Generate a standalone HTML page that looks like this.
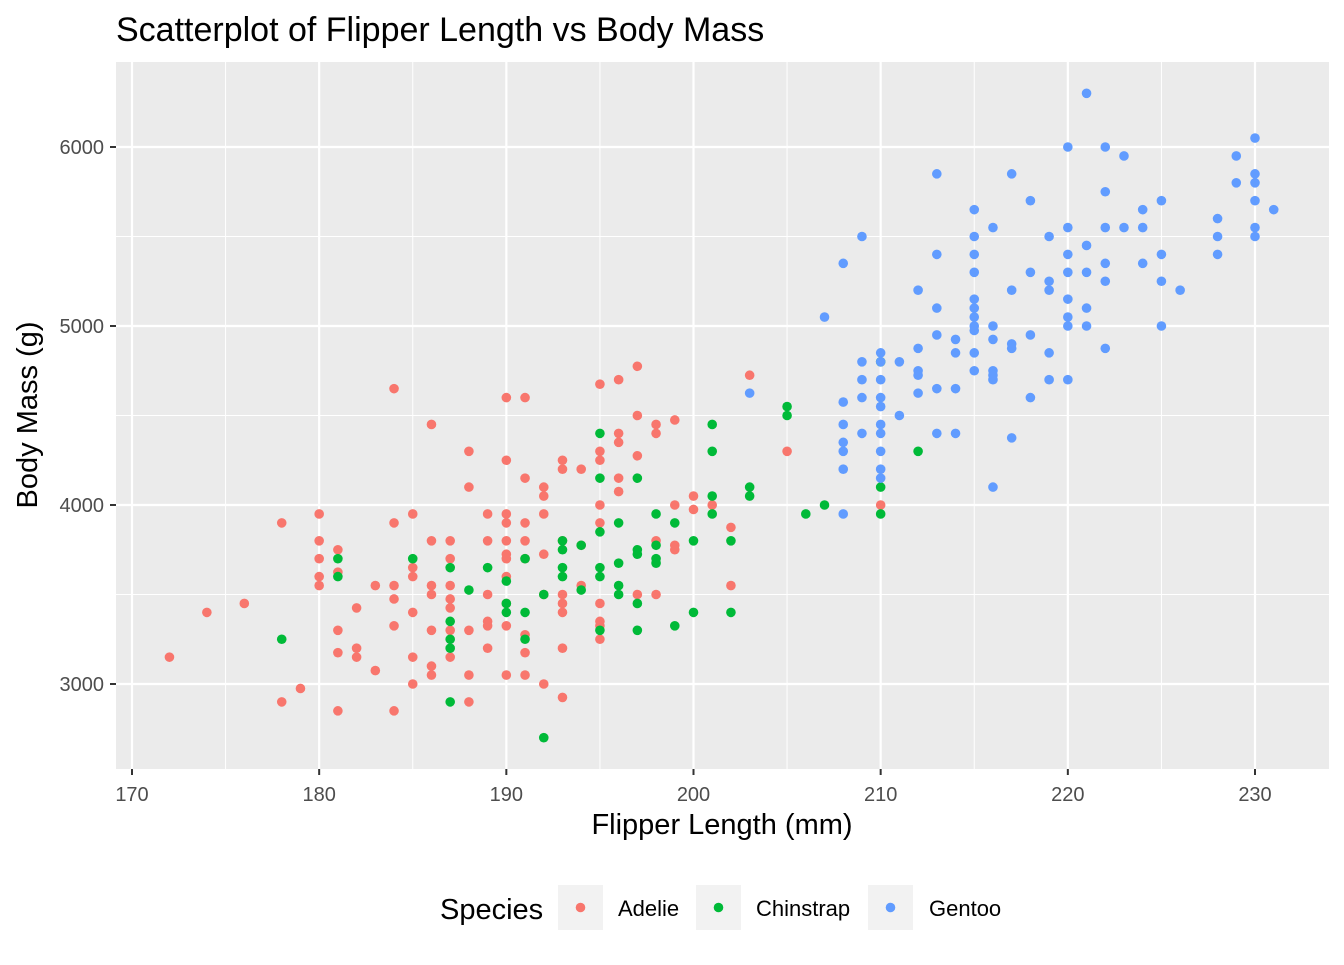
<!DOCTYPE html>
<html><head><meta charset="utf-8"><style>
body{margin:0;background:#fff;font-family:"Liberation Sans",Arial,sans-serif}
</style></head><body>
<svg id="chart" width="1344" height="960" xmlns="http://www.w3.org/2000/svg" font-family="Liberation Sans, Arial, sans-serif">
<text x="116" y="41" font-size="34" fill="#000">Scatterplot of Flipper Length vs Body Mass</text>
<rect x="116" y="62" width="1213" height="707" fill="#EBEBEB"/>
<g id="grid"></g><g id="ticks"></g><g id="points"></g>
<text x="722" y="834" font-size="29" text-anchor="middle">Flipper Length (mm)</text>
<text transform="translate(37,415) rotate(-90)" font-size="29" text-anchor="middle">Body Mass (g)</text>
<g>
<text x="440" y="919" font-size="29">Species</text>
<g><rect x="558" y="885" width="45" height="45" fill="#F2F2F2"/><circle cx="580.5" cy="907.5" r="4.8" fill="#F8766D"/><text x="618" y="916" font-size="22">Adelie</text></g>
<g><rect x="696" y="885" width="45" height="45" fill="#F2F2F2"/><circle cx="718.5" cy="907.5" r="4.8" fill="#00BA38"/><text x="756" y="916" font-size="22">Chinstrap</text></g>
<g><rect x="868" y="885" width="45" height="45" fill="#F2F2F2"/><circle cx="890.5" cy="907.5" r="4.8" fill="#619CFF"/><text x="929" y="916" font-size="22">Gentoo</text></g>
</g>
</svg>
<script>
const xTicks=[170,180,190,200,210,220,230];
const yTicks=[3000,4000,5000,6000];
const species=["Adelie","Chinstrap","Gentoo"];
const colors=["#F8766D","#00BA38","#619CFF"];
const adelie=[[172,3150],[174,3400],[176,3450],[178,3900],[178,2900],[179,2975],[180,3950],[180,3800],[180,3700],[180,3600],[180,3550],[181,3750],[181,3625],[181,3300],[181,3175],[181,2850],[182,3425],[182,3200],[182,3150],[183,3550],[183,3075],[184,4650],[184,3900],[184,3550],[184,3475],[184,3325],[184,2850],[185,3950],[185,3650],[185,3600],[185,3400],[185,3150],[185,3000],[186,4450],[186,3800],[186,3550],[186,3500],[186,3300],[186,3100],[186,3050],[187,3800],[187,3700],[187,3550],[187,3475],[187,3425],[187,3300],[187,3150],[188,4300],[188,4100],[188,3300],[188,3050],[188,2900],[189,3950],[189,3800],[189,3500],[189,3325],[189,3350],[189,3200],[190,4600],[190,4250],[190,3950],[190,3900],[190,3800],[190,3725],[190,3700],[190,3600],[190,3450],[190,3325],[190,3050],[191,4600],[191,4150],[191,3900],[191,3800],[191,3700],[191,3275],[191,3175],[191,3050],[192,4100],[192,4050],[192,3950],[192,3725],[192,3500],[192,3000],[193,4250],[193,4200],[193,3800],[193,3500],[193,3450],[193,3400],[193,3200],[193,2925],[194,4200],[194,3775],[194,3550],[195,4675],[195,4300],[195,4250],[195,4000],[195,3900],[195,3450],[195,3350],[195,3325],[195,3250],[196,4700],[196,4400],[196,4350],[196,4150],[196,4075],[197,4775],[197,4500],[197,4275],[197,3500],[198,4450],[198,4400],[198,3800],[198,3500],[199,4475],[199,4000],[199,3775],[199,3750],[200,4050],[200,3975],[201,4000],[202,3875],[202,3550],[203,4725],[205,4300],[210,4000]];
const chinstrap=[[178,3250],[181,3700],[181,3600],[185,3700],[187,3650],[187,3350],[187,3250],[187,3200],[187,2900],[188,3525],[189,3650],[190,3575],[190,3450],[190,3400],[191,3700],[191,3400],[191,3250],[192,2700],[192,3500],[193,3800],[193,3750],[193,3650],[193,3600],[194,3775],[194,3525],[195,4400],[195,4150],[195,3850],[195,3650],[195,3600],[195,3300],[196,3900],[196,3675],[196,3550],[196,3500],[197,4150],[197,3750],[197,3725],[197,3450],[197,3300],[198,3950],[198,3775],[198,3700],[198,3675],[199,3900],[199,3325],[200,3800],[200,3400],[201,4450],[201,4300],[201,4050],[201,3950],[202,3800],[202,3400],[203,4100],[203,4050],[205,4550],[205,4500],[206,3950],[207,4000],[210,4800],[210,4100],[210,3950],[212,4300]];
const gentoo=[[203,4625],[207,5050],[208,5350],[208,4575],[208,4450],[208,4350],[208,4300],[208,4200],[208,3950],[209,5500],[209,4800],[209,4700],[209,4600],[209,4400],[210,4850],[210,4800],[210,4700],[210,4600],[210,4550],[210,4450],[210,4400],[210,4300],[210,4200],[210,4150],[211,4800],[211,4500],[212,5200],[212,4875],[212,4750],[212,4725],[212,4625],[213,5850],[213,5400],[213,5100],[213,4950],[213,4650],[213,4400],[214,4925],[214,4850],[214,4650],[214,4400],[215,5650],[215,5500],[215,5400],[215,5300],[215,5150],[215,5100],[215,5050],[215,5000],[215,4975],[215,4850],[215,4750],[216,5550],[216,5000],[216,4925],[216,4750],[216,4725],[216,4700],[216,4100],[217,5850],[217,5200],[217,4900],[217,4875],[217,4375],[218,5700],[218,5300],[218,4950],[218,4600],[219,5500],[219,5250],[219,5200],[219,4850],[219,4700],[220,6000],[220,5550],[220,5400],[220,5300],[220,5150],[220,5050],[220,5000],[220,4700],[221,6300],[221,5450],[221,5300],[221,5100],[221,5000],[222,6000],[222,5750],[222,5550],[222,5350],[222,5250],[222,4875],[223,5950],[223,5550],[224,5650],[224,5550],[224,5350],[225,5700],[225,5400],[225,5250],[225,5000],[226,5200],[228,5600],[228,5500],[228,5400],[229,5950],[229,5800],[230,6050],[230,5850],[230,5800],[230,5700],[230,5550],[230,5500],[231,5650]];
const NS="http://www.w3.org/2000/svg";
const X0=116,X1=1329,Y0=62,Y1=769;
function sx(v){return 132+(v-170)*(1255-132)/60;}
function sy(v){return 684-(v-3000)*(684-147)/3000;}
function mk(tag,attrs,parent){const e=document.createElementNS(NS,tag);for(const k in attrs)e.setAttribute(k,attrs[k]);parent.appendChild(e);return e;}
const grid=document.getElementById('grid'),ticks=document.getElementById('ticks'),pts=document.getElementById('points');
for(let i=0;i<xTicks.length-1;i++){
  const m=xTicks[i]+5;
  const l=mk('line',{x1:sx(m),x2:sx(m),y1:Y0,y2:Y1,stroke:'#fff','stroke-width':1},grid);
  
  
}
for(let i=0;i<yTicks.length-1;i++){
  const m=yTicks[i]+500;
  const l=mk('line',{x1:X0,x2:X1,y1:sy(m),y2:sy(m),stroke:'#fff','stroke-width':1},grid);
  
  
}
xTicks.forEach(v=>{
  const l=mk('line',{x1:sx(v),x2:sx(v),y1:Y0,y2:Y1,stroke:'#fff','stroke-width':2.2},grid);
  
  
  mk('line',{x1:sx(v),x2:sx(v),y1:Y1,y2:Y1+6,stroke:'#333','stroke-width':2},ticks);
  const t=mk('text',{x:sx(v),y:801,'font-size':20,fill:'#4D4D4D','text-anchor':'middle'},ticks);
  t.textContent=v;
  
  
});
yTicks.forEach(v=>{
  const l=mk('line',{x1:X0,x2:X1,y1:sy(v),y2:sy(v),stroke:'#fff','stroke-width':2.2},grid);
  
  
  mk('line',{x1:X0-6,x2:X0,y1:sy(v),y2:sy(v),stroke:'#333','stroke-width':2},ticks);
  const t=mk('text',{x:X0-12,y:sy(v)+7,'font-size':20,fill:'#4D4D4D','text-anchor':'end'},ticks);
  t.textContent=v;
  
  
});
[adelie,chinstrap,gentoo].forEach((s,i)=>{
  s.forEach(p=>{
    const c=mk('circle',{cx:sx(p[0]),cy:sy(p[1]),r:4.8,fill:colors[i]},pts);
    
    
  });
});
</script>
</body></html>
